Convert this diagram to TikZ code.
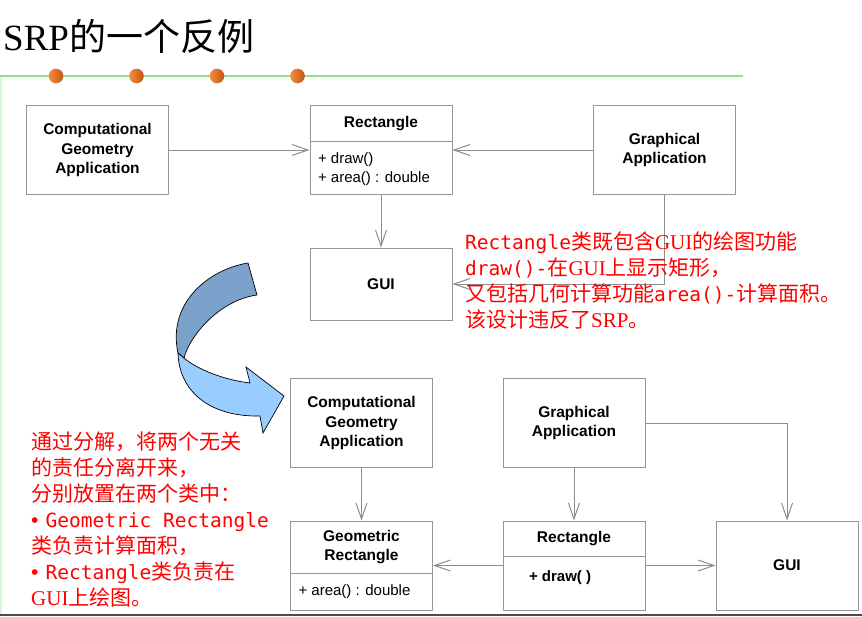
\documentclass[tikz,border=0pt]{standalone}
\usepackage{fontspec}
\usepackage{xcolor}
\usetikzlibrary{arrows.meta}
\setmainfont{Liberation Sans}
\newfontfamily\cjk{Noto Sans CJK SC}
\newfontfamily\serifr{Liberation Serif}
\newfontfamily\monor{DejaVu Sans Mono}[Scale=0.93]
\definecolor{line-gray}{RGB}{140, 140, 140}
\definecolor{box-gray}{RGB}{150, 150, 150}
\definecolor{title-green}{RGB}{140, 225, 140}
\definecolor{edge-green}{RGB}{215, 245, 215}
\definecolor{dot-light}{RGB}{245, 140, 60}
\definecolor{dot-dark}{RGB}{195, 85, 20}
\definecolor{arrow-dark}{RGB}{123, 162, 203}
\definecolor{arrow-light}{RGB}{153, 204, 255}
\definecolor{note-red}{RGB}{255, 0, 0}
\tikzset{
  umlbox/.style={draw=box-gray, line width=1pt, fill=white, minimum width=142, minimum height=89, inner sep=0pt},
  boxtext/.style={font=\fontsize{15.5}{19.2}\selectfont\bfseries, align=center, text=black},
  classhead/.style={boxtext, anchor=north, minimum width=142, inner sep=0pt},
  optext/.style={font=\fontsize{15}{19}\selectfont, align=left, anchor=north west, inner sep=0pt, text=black},
  assoc/.style={draw=line-gray, line width=1pt, -{Straight Barb[length=16pt, width=11pt]}},
  note/.style={font=\cjk\fontsize{21}{26}\selectfont, text=note-red, align=left, anchor=base west, inner sep=0pt},
}

\begin{document}
\begin{tikzpicture}[x=1pt, y=-1pt]
\useasboundingbox (0,0) rectangle (862,616);
\fill[white] (0,0) rectangle (862,616);

% title and rule
\node[anchor=base west, inner sep=0pt, font=\fontsize{37}{40}\selectfont] (title) at (3,50) {{\serifr SRP}{\cjk 的一个反例}};
\draw[edge-green, line width=1.5pt] (1,76) -- (1,616);
\draw[title-green, line width=2pt] (0,76) -- (743,76);
\shade[left color=dot-light, right color=dot-dark] (56,76) circle (7.3pt);
\shade[left color=dot-light, right color=dot-dark] (136.5,76) circle (7.3pt);
\shade[left color=dot-light, right color=dot-dark] (217,76) circle (7.3pt);
\shade[left color=dot-light, right color=dot-dark] (297.5,76) circle (7.3pt);
\draw[black!70, line width=2pt] (0,614.5) -- (862,614.5);

% first design
\node[umlbox, boxtext] (cga) at (97.5,150) {Computational\\Geometry\\Application};
\node[umlbox] (rect) at (381,150) {};
\node[classhead, minimum height=36] (rect-name) at (rect.north) {Rectangle};
\draw[box-gray, line width=1pt] (rect-name.south west) -- (rect-name.south east);
\node[optext] (rect-ops) at ([xshift=8pt, yshift=-11pt]rect-name.south west) {+ draw()\\+ area() : double};
\node[umlbox, boxtext] (ga) at (664.5,150) {Graphical\\Application};
\node[umlbox, boxtext, minimum height=72] (gui) at (381,284) {GUI};

\draw[assoc] (cga) -- (rect);
\draw[assoc] (ga) -- (rect);
\draw[assoc] (rect) -- (gui);
\draw[assoc] (ga.south) |- (gui.east);

% base of a multi-line note is its last line
\node[note] (note-top) at (465,327) {{\monor Rectangle}类既包含{\serifr GUI}的绘图功能\\{\monor draw()-}在{\serifr GUI}上显示矩形，\\又包括几何计算功能{\monor area()-}计算面积。\\该设计违反了{\serifr SRP}。};

% turning arrow
\filldraw[fill=arrow-dark, draw=black, line width=0.7pt] (248,263) .. controls (210,269) and (167,302) .. (178,353) -- (184,358) .. controls (190,335) and (220,300) .. (257,295) -- cycle;
\filldraw[fill=arrow-light, draw=black, line width=0.7pt] (178,353) .. controls (179,390) and (208,417) .. (260,416) -- (263,433) -- (284,396) -- (246,367) -- (250,383) .. controls (225,380) and (198,370) .. (184,358) -- cycle;

% split design
\node[umlbox, boxtext] (cga2) at (361.5,423) {Computational\\Geometry\\Application};
\node[umlbox, boxtext] (ga2) at (574,423) {Graphical\\Application};
\node[umlbox] (grect) at (361.5,565.5) {};
\node[classhead, minimum height=53] (grect-name) at (grect.north) {Geometric\\Rectangle};
\draw[box-gray, line width=1pt] (grect-name.south west) -- (grect-name.south east);
\node[optext] (grect-ops) at ([xshift=8pt, yshift=-11pt]grect-name.south west) {+ area() : double};
\node[umlbox] (rect2) at (574,565.5) {};
\node[classhead, minimum height=36] (rect2-name) at (rect2.north) {Rectangle};
\draw[box-gray, line width=1pt] (rect2-name.south west) -- (rect2-name.south east);
\node[optext, font=\fontsize{15}{19}\selectfont\bfseries] (rect2-ops) at ([xshift=26pt, yshift=-14pt]rect2-name.south west) {+ draw( )};
\node[umlbox, boxtext] (gui2) at (787,565.5) {GUI};

\draw[assoc] (cga2) -- (grect);
\draw[assoc] (ga2) -- (rect2);
\draw[assoc] (ga2.east) -| (gui2.north);
\draw[assoc] (rect2) -- (grect);
\draw[assoc] (rect2) -- (gui2);

\node[note] (note-split) at (31,605) {通过分解，将两个无关\\的责任分离开来，\\分别放置在两个类中：\\{\normalfont •}\hspace{7pt}{\monor Geometric Rectangle}\\类负责计算面积，\\{\normalfont •}\hspace{7pt}{\monor Rectangle}类负责在\\{\serifr GUI}上绘图。};
\end{tikzpicture}
\end{document}
